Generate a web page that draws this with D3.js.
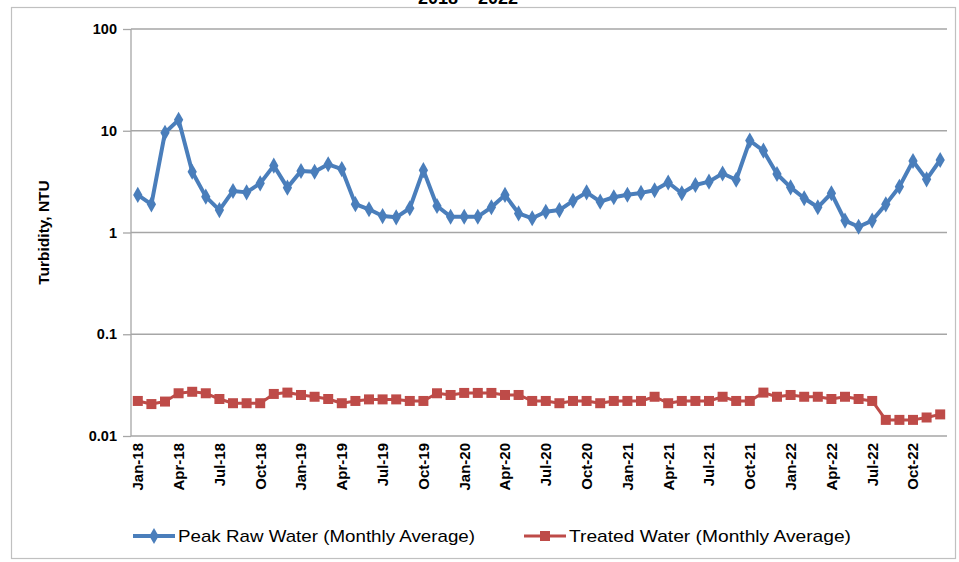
<!DOCTYPE html>
<html><head><meta charset="utf-8">
<script src="https://cdn.jsdelivr.net/npm/d3@7"></script>
<style>body{margin:0;background:#fff;} svg{display:block;}</style>
</head><body>
<script>
const months = ["Jan-18","Feb-18","Mar-18","Apr-18","May-18","Jun-18","Jul-18","Aug-18","Sep-18","Oct-18","Nov-18","Dec-18",
"Jan-19","Feb-19","Mar-19","Apr-19","May-19","Jun-19","Jul-19","Aug-19","Sep-19","Oct-19","Nov-19","Dec-19",
"Jan-20","Feb-20","Mar-20","Apr-20","May-20","Jun-20","Jul-20","Aug-20","Sep-20","Oct-20","Nov-20","Dec-20",
"Jan-21","Feb-21","Mar-21","Apr-21","May-21","Jun-21","Jul-21","Aug-21","Sep-21","Oct-21","Nov-21","Dec-21",
"Jan-22","Feb-22","Mar-22","Apr-22","May-22","Jun-22","Jul-22","Aug-22","Sep-22","Oct-22","Nov-22","Dec-22"];
const rawWater = [2.34,1.89,9.57,12.8,3.96,2.25,1.66,2.56,2.48,3.04,4.54,2.76,
4.02,3.96,4.68,4.2,1.9,1.69,1.45,1.41,1.73,4.1,1.82,1.43,
1.43,1.43,1.77,2.34,1.54,1.38,1.6,1.66,2.05,2.48,2.01,2.22,
2.35,2.45,2.6,3.1,2.43,2.93,3.16,3.8,3.3,8.0,6.37,3.76,
2.78,2.17,1.77,2.43,1.31,1.14,1.31,1.89,2.82,5.04,3.33,5.16];
const treatedWater = [0.0221,0.0206,0.0218,0.0263,0.0272,0.0263,0.0231,0.021,0.021,0.021,0.0259,0.0267,
0.0253,0.0243,0.0231,0.021,0.0221,0.0229,0.0229,0.0229,0.0221,0.0221,0.0263,0.0253,
0.0265,0.0265,0.0265,0.0253,0.0253,0.0221,0.0221,0.021,0.0221,0.0221,0.021,0.0221,
0.0221,0.0221,0.0243,0.021,0.0221,0.0221,0.0221,0.0243,0.0221,0.0221,0.0267,0.0243,
0.0253,0.0243,0.0243,0.0231,0.0243,0.0231,0.0221,0.0144,0.0144,0.0144,0.0152,0.0163];
const yTicks = [0.01,0.1,1,10,100];
const yTickLabels = ["0.01","0.1","1","10","100"];
const seriesNames = ["Peak Raw Water (Monthly Average)","Treated Water (Monthly Average)"];
const titleText = "2018 – 2022";
const yTitle = "Turbidity, NTU";

const W=959,H=562;
const svg=d3.select("body").append("svg").attr("width",W).attr("height",H);
const blue="#4a7ebb", red="#be4b48", grid="#a6a6a6";
const FONT="Liberation Sans, Arial, sans-serif";

// outer frame
svg.append("rect").attr("x",11.5).attr("y",7.5).attr("width",944).attr("height",551)
  .attr("fill","none").attr("stroke","#c0c0c0").attr("stroke-width",1.2);

// title (cut off at top, as in the source)
svg.append("text").attr("x",468).attr("y",4).attr("text-anchor","middle")
  .attr("font-family",FONT).attr("font-weight","bold").attr("font-size",18)
  .attr("fill","#000").text(titleText);

const x=d3.scaleBand().domain(months).range([131,947]).padding(0);
const y=d3.scaleLog().domain([0.01,100]).range([436,29]);
const cx=d=>x(d)+x.bandwidth()/2;

// gridlines
svg.append("g").selectAll("line").data(yTicks.slice(1)).join("line")
  .attr("x1",131).attr("x2",947).attr("y1",d=>y(d)).attr("y2",d=>y(d))
  .attr("stroke",grid).attr("stroke-width",1.3);

// y axis
const yAxis=d3.axisLeft(y).tickValues(yTicks).tickFormat((d,i)=>yTickLabels[i]).tickSize(8).tickPadding(6);
const gy=svg.append("g").attr("transform","translate(131,0)").call(yAxis);
gy.select(".domain").attr("stroke",grid).attr("stroke-width",1.3).attr("d","M0,29V436");
gy.selectAll(".tick line").attr("stroke",grid).attr("stroke-width",1.3);
gy.selectAll("text").attr("font-family",FONT).attr("font-weight","bold")
  .attr("font-size",14.5).attr("fill","#000");

// x axis
const xAxis=d3.axisBottom(x).tickValues(months.filter((d,i)=>i%3===0)).tickSize(0).tickPadding(0);
const gx=svg.append("g").attr("transform","translate(0,436)").call(xAxis);
gx.select(".domain").attr("stroke",grid).attr("stroke-width",1.3).attr("d","M131,0H947");
gx.selectAll("text").attr("font-family",FONT).attr("font-weight","bold")
  .attr("font-size",15).attr("fill","#000")
  .attr("transform","rotate(-90)").attr("text-anchor","end").attr("dx","-7").attr("dy","0.36em").attr("y",0);

// y title
svg.append("text").attr("transform","translate(49,232.5) rotate(-90)").attr("text-anchor","middle")
  .attr("font-family",FONT).attr("font-weight","bold").attr("font-size",15.5)
  .attr("fill","#000").text(yTitle);

const line=d3.line().x((d,i)=>cx(months[i])).y(d=>y(d));
// raw
svg.append("path").datum(rawWater).attr("d",line).attr("fill","none").attr("stroke",blue)
  .attr("stroke-width",4).attr("stroke-linejoin","round");
const diamond=d3.symbol().type(d3.symbolDiamond).size(75);
svg.append("g").selectAll("path").data(rawWater).join("path")
  .attr("d",diamond).attr("transform",(d,i)=>`translate(${cx(months[i])},${y(d)})`).attr("fill",blue);
// treated
svg.append("path").datum(treatedWater).attr("d",line).attr("fill","none").attr("stroke",red)
  .attr("stroke-width",3).attr("stroke-linejoin","round");
svg.append("g").selectAll("rect").data(treatedWater).join("rect")
  .attr("x",(d,i)=>cx(months[i])-5).attr("y",d=>y(d)-5).attr("width",10).attr("height",10).attr("fill",red);

// legend
const lg=svg.append("g");
const legendItems=[{x:133,color:blue,name:seriesNames[0],shape:"d",w:297},{x:524,color:red,name:seriesNames[1],shape:"s",w:282}];
legendItems.forEach(it=>{
  lg.append("line").attr("x1",it.x).attr("x2",it.x+42).attr("y1",536).attr("y2",536).attr("stroke",it.color).attr("stroke-width",it.shape==="d"?4:3);
  if(it.shape==="d") lg.append("path").attr("d",diamond).attr("transform",`translate(${it.x+21},536)`).attr("fill",it.color);
  else lg.append("rect").attr("x",it.x+16).attr("y",531).attr("width",10).attr("height",10).attr("fill",it.color);
  lg.append("text").attr("x",it.x+45).attr("y",542).attr("font-family",FONT)
    .attr("font-size",17).attr("textLength",it.w).attr("lengthAdjust","spacingAndGlyphs")
    .attr("fill","#000").text(it.name);
});
</script>
</body></html>
